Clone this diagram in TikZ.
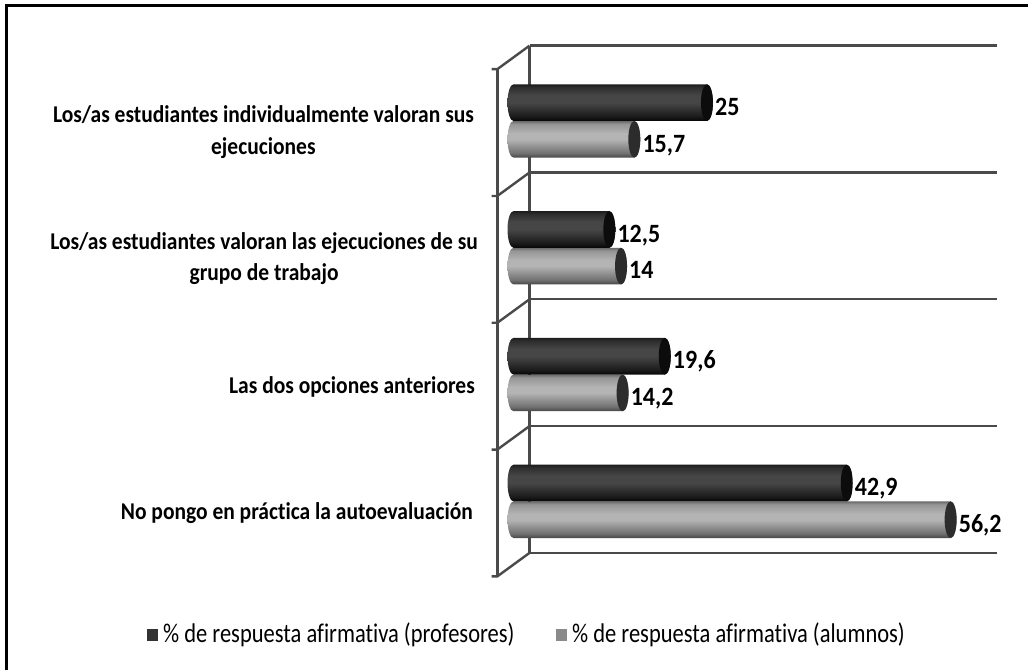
\documentclass[tikz,border=0pt]{standalone}
\usepackage{fontspec}
\setmainfont{Carlito}[Ligatures=NoCommon]
\definecolor{dk0}{HTML}{050505}
\definecolor{dk1}{HTML}{1A1A1A}
\definecolor{dk2}{HTML}{464646}
\definecolor{dk3}{HTML}{2E2E2E}
\definecolor{dk4}{HTML}{1C1C1C}
\definecolor{gr0}{HTML}{454545}
\definecolor{gr1}{HTML}{707070}
\definecolor{gr2}{HTML}{B4B4B4}
\definecolor{gr3}{HTML}{959595}
\definecolor{gr4}{HTML}{6A6A6A}
\definecolor{dkcap}{HTML}{0C0C0C}
\definecolor{grcap}{HTML}{2C2C2C}
\definecolor{axiscol}{HTML}{4A4A4A}
\definecolor{legdk}{HTML}{333333}
\definecolor{leggr}{HTML}{8A8A8A}
\pgfdeclareverticalshading{darkcyl}{100bp}{color(0bp)=(dk0); color(25bp)=(dk0); color(31bp)=(dk1); color(50bp)=(dk2); color(60bp)=(dk2); color(71bp)=(dk3); color(75bp)=(dk4); color(100bp)=(dk4)}
\pgfdeclareverticalshading{greycyl}{100bp}{color(0bp)=(gr0); color(25bp)=(gr0); color(31bp)=(gr1); color(50bp)=(gr2); color(58bp)=(gr2); color(71bp)=(gr3); color(75bp)=(gr4); color(100bp)=(gr4)}
\tikzset{
  gridln/.style={draw=axiscol, line width=2.4pt},
  lbl/.style={font=\bfseries\fontsize{24}{28}\selectfont, inner sep=0pt, anchor=west, text height=15pt, text depth=0pt, yscale=1.1},
  catlbl/.style={font=\bfseries\fontsize{21.5}{28}\selectfont, inner sep=0pt, anchor=east, align=center, yscale=1.12},
  leglbl/.style={font=\fontsize{22.5}{26}\selectfont, inner sep=0pt, anchor=west, yscale=1.2},
}
\begin{document}
\begin{tikzpicture}[x=1pt,y=1pt]
\useasboundingbox (0,0) rectangle (1028,670);
% outer frame (left and top edges visible)
\draw[line width=2.8pt, black] (6.5,0) -- (6.5,{670-5.5}) -- (1028,{670-5.5});
% grid, back wall and floor/side
\foreach \k in {0,...,4}{
  \pgfmathsetmacro\g{670-(45.7+\k*126.8)}
  \draw[gridln] (529.5,\g) -- (996.7,\g);
  \draw[gridln] (491.7,\g-23.5) -- (497.3,\g-23.5) -- (529.5,\g);
}
\draw[gridln] (529.5,{670-45.7}) -- (529.5,{670-552.9});
\draw[gridln] (497.3,{670-69.2}) -- (497.3,{670-576.4});
% bars
\foreach \k/\va/\vb/\la/\lb in {0/25/15.7/25/{15,7},1/12.5/14/{12,5}/14,2/19.6/14.2/{19,6}/{14,2},3/42.9/56.2/{42,9}/{56,2}}{
  \pgfmathsetmacro\T{670-(84.3+\k*126.8)}
  \pgfmathsetmacro\M{670-(121+\k*126.8)}
  \pgfmathsetmacro\B{670-(157.6+\k*126.8)}
  \pgfmathsetmacro\ra{(\T-\M)/2}
  \pgfmathsetmacro\rb{(\M-\B)/2}
  \pgfmathsetmacro\ca{(\T+\M)/2}
  \pgfmathsetmacro\cb{(\M+\B)/2}
  \pgfmathsetmacro\xa{511.7+7.81*\va}
  \pgfmathsetmacro\xb{511.7+7.81*\vb}
  \shade[shading=greycyl] (513.5,\M) -- (\xb,\M) arc[start angle=90,end angle=-90,x radius=6,y radius=\rb] -- (513.5,\B) arc[start angle=270,end angle=90,x radius=6,y radius=\rb] -- cycle;
  \fill[grcap] (\xb,\cb) ellipse[x radius=6,y radius=\rb];
  \shade[shading=darkcyl] (513.5,\T) -- (\xa,\T) arc[start angle=90,end angle=-90,x radius=6,y radius=\ra] -- (513.5,\M) arc[start angle=270,end angle=90,x radius=6,y radius=\ra] -- cycle;
  \fill[dkcap] (\xa,\ca) ellipse[x radius=6,y radius=\ra];
  \node[lbl] (pa\k) at (\xa+8,\ca-4.5) {\la};
  \node[lbl] (pb\k) at (\xb+8,\cb-4.5) {\lb};
}
% category labels
\node[catlbl] (c1) at (474,{670-132}) {Los/as estudiantes individualmente valoran sus\\ejecuciones};
\node[catlbl] (c2) at (478,{670-258.8}) {Los/as estudiantes valoran las ejecuciones de su\\grupo de trabajo};
\node[catlbl] (c3) at (475,{670-386.5}) {Las dos opciones anteriores};
\node[catlbl] (c4) at (473,{670-513.5}) {No pongo en práctica la autoevaluación};
% legend
\fill[legdk] (147,{670-629}) rectangle (158,{670-641});
\node[leglbl] (l1) at (163,{670-635}) {\% de respuesta afirmativa (profesores)};
\fill[leggr] (556,{670-629}) rectangle (567,{670-641});
\node[leglbl] (l2) at (572,{670-635}) {\% de respuesta afirmativa (alumnos)};
\end{tikzpicture}
\end{document}
